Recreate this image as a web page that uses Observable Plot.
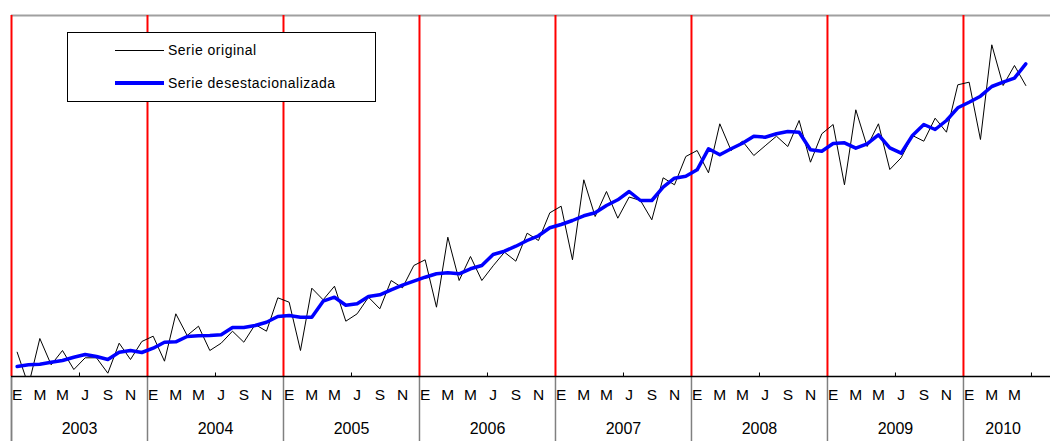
<!DOCTYPE html>
<html>
<head>
<meta charset="utf-8">
<script src="https://cdn.jsdelivr.net/npm/d3@7"></script>
<script src="https://cdn.jsdelivr.net/npm/@observablehq/plot@0.6"></script>
<style>
  html, body { margin: 0; padding: 0; background: #fff; }
  #wrap { position: relative; width: 1050px; height: 441px; font-family: "Liberation Sans", Arial, sans-serif; }
  #legend { position: absolute; left: 67px; top: 32px; width: 309px; height: 70px; border: 1px solid #000; background: #fff; box-sizing: border-box; }
  .item { position: absolute; left: 47px; height: 16px; display: flex; align-items: center; }
  .swatch { width: 49px; margin-right: 4px; }
  .label { font-size: 14px; letter-spacing: 0.5px; color: #000; white-space: nowrap; }
</style>
</head>
<body>
<div id="wrap">
  <div id="chart"></div>
  <div id="legend">
    <div class="item" style="top:9px"><div class="swatch" style="border-top:1px solid #000"></div><span class="label">Serie original</span></div>
    <div class="item" style="top:42px"><div class="swatch" style="border-top:4px solid #0000ff"></div><span class="label">Serie desestacionalizada</span></div>
  </div>
</div>
<script>
// Years shown on the axis (monthly data Jan 2003 – Jun 2010)
const years = [2003, 2004, 2005, 2006, 2007, 2008, 2009, 2010];
// Number of monthly categories in each year group of the axis
const yearMonths = [12, 12, 12, 12, 12, 12, 12, 7];
// Month letters labelled on the axis (Enero, Marzo, Mayo, Julio, Septiembre, Noviembre)
const monthLetters = ["E", "M", "M", "J", "S", "N"];

// Serie original (arbitrary units)
const original = [
  24.3, -9, 38, 11.7, 26, 7, 18.7, 18.7, 3.3, 33.3, 17, 35,
  40.3, 15.3, 62.7, 41, 50.3, 26, 33.3, 45.3, 34.3, 52, 45.3, 78.7,
  74.3, 26, 88.3, 76.7, 90.3, 55.3, 62.7, 79.3, 67.7, 96, 88.7, 111,
  116.7, 69.3, 139.3, 96, 120, 96, 110.7, 124.3, 115.3, 143.3, 136, 163.7,
  170.3, 116.7, 196.7, 160, 185, 158.3, 179.5, 176, 156.7, 198.7, 191.7, 220,
  226, 203.7, 252.7, 226, 235.3, 221, 230.7, 240.3, 230, 256, 214.3, 242.7,
  252, 191.7, 266.7, 230, 252.7, 207, 218.7, 241, 235.3, 258.3, 244.3, 291.7,
  294.3, 237, 331.7, 291, 311, 291
];

// Serie desestacionalizada
const deseasonalized = [
  10, 11.7, 12.3, 14.3, 16, 19.3, 22, 20, 17, 24.3, 26, 24,
  28.3, 34.3, 34.7, 40, 40.7, 41, 41.7, 49, 49, 51, 54.3, 60,
  61, 59.3, 59.3, 75.3, 79.3, 71.3, 72.7, 80, 81.7, 86.7, 91.3, 95.3,
  99.3, 102.7, 103.7, 102.7, 107.7, 111, 122, 125.3, 130.3, 136, 140.7, 148.7,
  152, 156, 160.7, 163.7, 171, 176.7, 185, 176, 176, 189.3, 198.3, 200.3,
  206.7, 227.7, 221.7, 227.7, 233.3, 240.3, 239.3, 242.7, 245, 244.3, 226.7, 225.3,
  233, 233.7, 228.3, 232.7, 241.7, 228.7, 223.3, 241, 252, 247, 256, 268.7,
  274.3, 280.3, 290, 294.3, 298.3, 312.7
];

const nMonths = original.length;
const origData = original.map((v, i) => ({t: i + 0.5, v}));
const desData = deseasonalized.map((v, i) => ({t: i + 0.5, v}));
const yearStarts = years.map((y, k) => k * 12);
const midYears = years.map((y, k) => k * 12 + 6);
const yearLabels = years.map((y, k) => ({t: k * 12 + yearMonths[k] / 2, label: String(y)}));
const monthLabels = [];
years.forEach((y, k) => monthLetters.forEach((m, j) => {
  const idx = k * 12 + j * 2;
  if (idx < nMonths) monthLabels.push({t: idx + 0.5, label: m});
}));

const chart = Plot.plot({
  width: 1050,
  height: 441,
  marginTop: 15,
  marginBottom: 65,
  marginLeft: 11,
  marginRight: 0,
  x: {domain: [0, 91.68], axis: null},
  y: {domain: [0, 361], axis: null},
  style: {fontFamily: "'Liberation Sans', Arial, sans-serif", background: "#fff", overflow: "visible"},
  marks: [
    Plot.ruleY([361], {stroke: "#a0a0a0", strokeWidth: 2}),
    Plot.ruleX([0], {y1: -65, y2: 0, stroke: "#808080", strokeWidth: 1.5}),
    Plot.ruleX(yearStarts, {y1: 0, y2: 361, stroke: "#ff0000", strokeWidth: 2}),
    Plot.ruleX(yearStarts, {y1: 0, y2: -65, stroke: "#808080", strokeWidth: 1.5}),
    Plot.ruleX(midYears, {y1: 0, y2: 3.5, stroke: "#000"}),
    Plot.ruleY([0], {stroke: "#000", strokeWidth: 1.5}),
    Plot.line(origData, {x: "t", y: "v", stroke: "#000", strokeWidth: 1, clip: true}),
    Plot.line(desData, {x: "t", y: "v", stroke: "#0000ff", strokeWidth: 3.5, clip: true}),
    Plot.text(monthLabels, {x: "t", text: "label", frameAnchor: "bottom", dy: 23, fontSize: 15.5, fill: "#000"}),
    Plot.text(yearLabels, {x: "t", text: "label", frameAnchor: "bottom", dy: 57, fontSize: 16, fill: "#000", style: "letter-spacing:0.4px"})
  ]
});
document.getElementById("chart").appendChild(chart);
</script>
</body>
</html>
